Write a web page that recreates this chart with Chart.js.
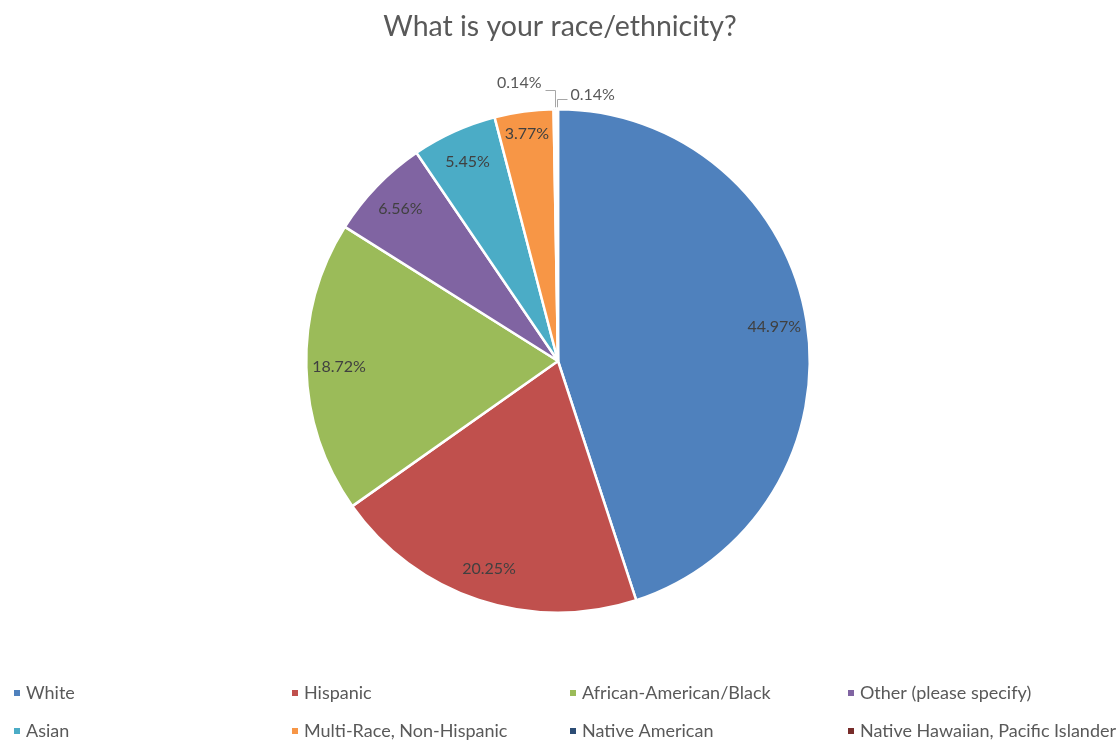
<!DOCTYPE html>
<html>
<head>
<meta charset="utf-8">
<title>What is your race/ethnicity?</title>
<script src="https://cdn.jsdelivr.net/npm/chart.js@4"></script>
<style>
  html, body { margin: 0; padding: 0; background: #fff; }
  #wrap { width: 1120px; height: 742px; position: relative; }
</style>
</head>
<body>
<div id="wrap"><canvas id="raceChart"></canvas></div>
<script>
"use strict";

var chartTitle = 'What is your race/ethnicity?';
var groups = [
    'White',
    'Hispanic',
    'African-American/Black',
    'Other (please specify)',
    'Asian',
    'Multi-Race, Non-Hispanic',
    'Native American',
    'Native Hawaiian, Pacific Islander'
];
var shares = [44.97, 20.25, 18.72, 6.56, 5.45, 3.77, 0.14, 0.14];
var sliceColors = ['#4F81BD', '#C0504D', '#9BBB59', '#8064A2', '#4BACC6', '#F79646', '#2C4D75', '#772C2A'];

var FONT = 'Lato, "Open Sans", sans-serif';

/* percent labels on the slices, leader lines for the tiny ones */
var sliceLabels = {
    id: 'sliceLabels',
    afterDatasetsDraw: function(chart) {
        var ctx = chart.ctx;
        var meta = chart.getDatasetMeta(0);
        var last = meta.data.length - 1;
        ctx.save();
        ctx.font = '16px ' + FONT;
        ctx.textBaseline = 'middle';
        meta.data.forEach(function(arc, i) {
            var p = arc.getProps(['x', 'y', 'startAngle', 'endAngle', 'outerRadius'], true);
            var mid = (p.startAngle + p.endAngle) / 2;
            var text = shares[i].toFixed(2) + '%';
            if (shares[i] >= 1) {
                // narrow slices push their label further out
                var r = p.outerRadius * (shares[i] < 5 ? 0.91 : 0.87);
                ctx.fillStyle = '#404040';
                ctx.textAlign = 'center';
                ctx.fillText(text, p.x + Math.cos(mid) * r, p.y + Math.sin(mid) * r);
                return;
            }
            var ax = Math.round(p.x + Math.cos(mid) * p.outerRadius) + 0.5;
            var ay = p.y + Math.sin(mid) * p.outerRadius - 2;
            ctx.strokeStyle = '#A6A6A6';
            ctx.lineWidth = 1;
            ctx.beginPath();
            ctx.fillStyle = '#595959';
            if (i < last) {
                ctx.moveTo(ax, ay);
                ctx.lineTo(ax, 90.5);
                ctx.lineTo(ax - 10, 90.5);
                ctx.stroke();
                ctx.textAlign = 'right';
                ctx.fillText(text, ax - 14, 83);
            } else {
                ctx.moveTo(ax, ay);
                ctx.lineTo(ax, 99.5);
                ctx.lineTo(ax + 10, 99.5);
                ctx.stroke();
                ctx.textAlign = 'left';
                ctx.fillText(text, ax + 13, 95);
            }
        });
        ctx.restore();
    }
};

/* title and the four-column legend underneath */
var frame = {
    id: 'frame',
    afterDraw: function(chart) {
        var ctx = chart.ctx;
        ctx.save();
        ctx.fillStyle = '#595959';
        ctx.font = '28.5px ' + FONT;
        ctx.textAlign = 'center';
        ctx.textBaseline = 'middle';
        ctx.fillText(chartTitle, 560, 27);

        ctx.font = '18px ' + FONT;
        ctx.textAlign = 'left';
        groups.forEach(function(name, i) {
            var col = i % 4, row = Math.floor(i / 4);
            var x = 14 + col * 278;
            var y = 693 + row * 38;
            ctx.fillStyle = sliceColors[i];
            ctx.fillRect(x, y - 3, 6, 6);
            ctx.fillStyle = '#595959';
            ctx.fillText(name, x + 12, y);
        });
        ctx.restore();
    }
};

var ctx = document.getElementById('raceChart').getContext('2d');
var raceChart = new Chart(ctx, {
    type: 'pie',
    data: {
        labels: groups,
        datasets: [{
            data: shares,
            backgroundColor: sliceColors,
            borderColor: '#ffffff',
            borderWidth: 2.5
        }]
    },
    options: {
        responsive: true,
        maintainAspectRatio: false,
        animation: false,
        layout: {
            padding: { left: 305, right: 309, top: 108, bottom: 128 }
        },
        plugins: {
            legend: { display: false },
            title: { display: false },
            tooltip: { enabled: false }
        }
    },
    plugins: [sliceLabels, frame]
});
</script>
</body>
</html>
